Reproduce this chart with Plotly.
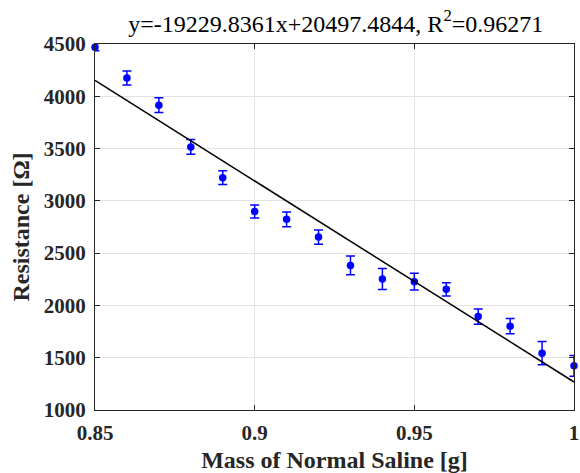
import plotly.graph_objects as go

mass = [0.85, 0.86, 0.87, 0.88, 0.89, 0.90, 0.91, 0.92, 0.93, 0.94, 0.95, 0.96, 0.97, 0.98, 0.99, 1.00]
resistance = [4470, 4175, 3915, 3516, 3222, 2899, 2823, 2654, 2383, 2253, 2227, 2154, 1893, 1801, 1543, 1422]
err = [35, 67, 70, 70, 65, 62, 70, 68, 90, 100, 80, 63, 72, 73, 111, 100]
slope = -19229.8361
intercept = 20497.4844
r2 = 0.96271
fit_x = [0.85, 1.0]
fit_y = [slope * v + intercept for v in fit_x]

x_ticks = [0.85, 0.9, 0.95, 1.0]
x_tick_text = ["0.85", "0.9", "0.95", "1"]
y_ticks = [1000, 1500, 2000, 2500, 3000, 3500, 4000, 4500]

serif = "Liberation Serif, Times New Roman, serif"
axis_col = "#262626"

fig = go.Figure()
fig.add_trace(go.Scatter(
    x=mass, y=resistance, mode="markers",
    marker=dict(color="#0000ff", size=7.5, symbol="circle"),
    error_y=dict(type="data", array=err, visible=True, color="#0000ff", thickness=1.5, width=4.5),
    showlegend=False, cliponaxis=False,
))
fig.add_trace(go.Scatter(
    x=fit_x, y=fit_y, mode="lines",
    line=dict(color="black", width=1.5), showlegend=False,
))

fig.update_layout(
    width=580, height=473,
    margin=dict(l=95, r=1, t=44, b=63),
    paper_bgcolor="white", plot_bgcolor="white",
    title=dict(
        text=f"y={slope}x+{intercept}, R<sup>2</sup>={r2}",
        x=0.579, xanchor="center", y=0.951, yanchor="middle",
        font=dict(family=serif, size=24, color="black"),
    ),
    font=dict(family=serif, color="black"),
)
fig.update_xaxes(
    range=[0.85, 1.0], tickvals=x_ticks, ticktext=x_tick_text,
    showgrid=True, gridcolor="#e3e3e3", gridwidth=1,
    showline=True, linecolor=axis_col, linewidth=1.2, mirror="allticks",
    ticks="inside", ticklen=5, tickcolor=axis_col,
    tickfont=dict(family=serif, size=21, color=axis_col, weight="bold"),
    ticklabelstandoff=4, ticklabeloverflow="allow",
    title=dict(text="Mass of Normal Saline [g]", font=dict(family=serif, size=24, color=axis_col, weight="bold"), standoff=6),
    zeroline=False,
)
fig.update_yaxes(
    range=[1000, 4500], tickvals=y_ticks,
    showgrid=True, gridcolor="#e3e3e3", gridwidth=1,
    showline=True, linecolor=axis_col, linewidth=1.2, mirror="allticks",
    ticks="inside", ticklen=5, tickcolor=axis_col,
    tickfont=dict(family=serif, size=21, color=axis_col, weight="bold"),
    ticklabelstandoff=4, ticklabeloverflow="allow",
    title=dict(text="Resistance [Ω]", font=dict(family=serif, size=24, color=axis_col, weight="bold"), standoff=7),
    zeroline=False,
)

fig.write_html(
    "out.html",
    config={"displayModeBar": False},
    post_script="document.body.style.margin='0';document.body.style.overflow='hidden';",
)
